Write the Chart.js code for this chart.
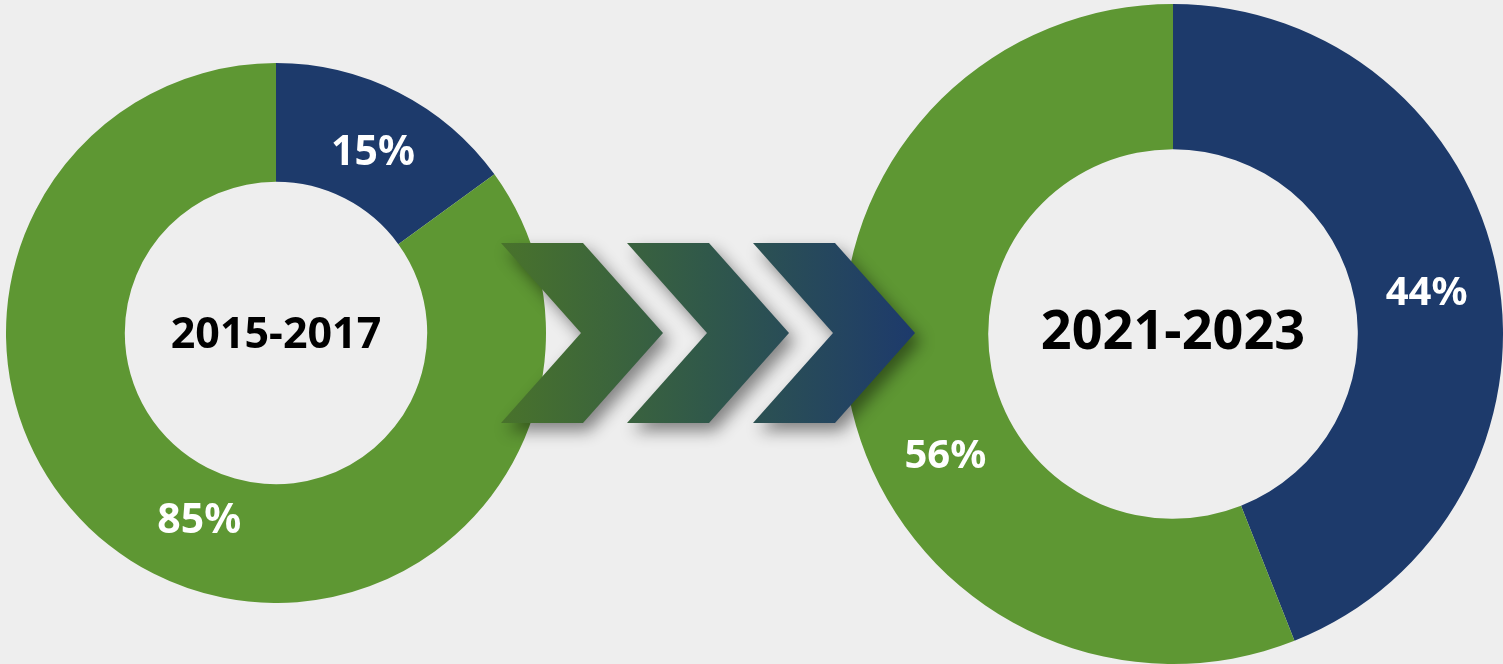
<!DOCTYPE html>
<html>
<head>
<meta charset="utf-8">
<script src="https://cdn.jsdelivr.net/npm/chart.js@4.4.1/dist/chart.umd.min.js"></script>
<style>
    html, body { margin: 0; padding: 0; background: #eeeeee; }
    body { width: 1503px; height: 664px; position: relative; overflow: hidden; }
    .box { position: absolute; }
    #leftBox { left: 6px; top: 63px; width: 540px; height: 540px; }
    #rightBox { left: 843px; top: 4px; width: 660px; height: 660px; }
    #arrows { position: absolute; left: 0; top: 0; pointer-events: none; }
</style>
</head>
<body>
<div class="box" id="leftBox"><canvas id="leftChart"></canvas></div>
<div class="box" id="rightBox"><canvas id="rightChart"></canvas></div>
<canvas id="arrows" width="1503" height="664"></canvas>
<script>
const categories = ['Blue share', 'Green share'];
const leftPeriod = '2015-2017';
const rightPeriod = '2021-2023';
const leftValues = [15, 85];
const rightValues = [44, 56];

const BLUE = '#1d3a6b';
const GREEN = '#5e9733';
const FONT = "'Noto Sans', 'Open Sans', sans-serif";

// draws the percentage labels on the slices and the period text in the hole
const labelPlugin = {
    id: 'sliceLabels',
    afterDatasetsDraw(chart, args, opts) {
        const ctx = chart.ctx;
        const meta = chart.getDatasetMeta(0);
        const values = chart.data.datasets[0].data;
        ctx.save();
        ctx.textAlign = 'center';
        ctx.textBaseline = 'middle';
        meta.data.forEach((arc, i) => {
            const p = arc.getProps(['x', 'y', 'startAngle', 'endAngle', 'innerRadius', 'outerRadius'], true);
            let angle = (p.startAngle + p.endAngle) / 2;
            if (opts.angleShift && opts.angleShift[i]) angle += opts.angleShift[i] * Math.PI / 180;
            const r = (p.innerRadius + p.outerRadius) / 2 + (opts.radiusShift ? opts.radiusShift[i] : 0);
            ctx.fillStyle = '#ffffff';
            ctx.font = 'bold ' + opts.valueSize + 'px ' + FONT;
            ctx.fillText(values[i] + '%', p.x + Math.cos(angle) * r, p.y + Math.sin(angle) * r + 3);
        });
        const c = meta.data[0];
        ctx.fillStyle = '#000000';
        ctx.font = 'bold ' + opts.centerSize + 'px ' + FONT;
        ctx.fillText(opts.center, c.x, c.y + opts.centerDy);
        ctx.restore();
    }
};

function makeDonut(id, values, center, opts) {
    return new Chart(document.getElementById(id), {
        type: 'doughnut',
        data: {
            labels: categories,
            datasets: [{
                data: values,
                backgroundColor: [BLUE, GREEN],
                borderWidth: 0,
                hoverOffset: 0
            }]
        },
        options: {
            responsive: true,
            maintainAspectRatio: false,
            animation: false,
            cutout: '56%',
            layout: { padding: 0 },
            events: [],
            plugins: {
                legend: { display: false },
                tooltip: { enabled: false },
                sliceLabels: Object.assign({ center: center }, opts)
            }
        },
        plugins: [labelPlugin]
    });
}

makeDonut('leftChart', leftValues, leftPeriod, { valueSize: 41, centerSize: 43, centerDy: 3, angleShift: [1, -4.5], radiusShift: [-4, -10] });
makeDonut('rightChart', rightValues, rightPeriod, { valueSize: 40, centerSize: 54, centerDy: 0, angleShift: [1, -17], radiusShift: [0, 0] });

// decorative chevrons between the two donuts
function drawArrows() {
    const ctx = document.getElementById('arrows').getContext('2d');
    const grad = ctx.createLinearGradient(500, 0, 915, 0);
    grad.addColorStop(0, '#49732b');
    grad.addColorStop(0.5, '#30584a');
    grad.addColorStop(1, '#1d3a6c');
    const top = 243, bottom = 423, mid = 333;
    const starts = [501, 627, 753];
    ctx.save();
    ctx.shadowColor = 'rgba(0, 0, 0, 0.45)';
    ctx.shadowBlur = 16;
    ctx.shadowOffsetX = 6;
    ctx.shadowOffsetY = 8;
    ctx.fillStyle = grad;
    starts.forEach(x0 => {
        ctx.beginPath();
        ctx.moveTo(x0, top);
        ctx.lineTo(x0 + 82, top);
        ctx.lineTo(x0 + 162, mid);
        ctx.lineTo(x0 + 82, bottom);
        ctx.lineTo(x0, bottom);
        ctx.lineTo(x0 + 80, mid);
        ctx.closePath();
        ctx.fill();
    });
    ctx.restore();
}
drawArrows();
</script>
</body>
</html>
